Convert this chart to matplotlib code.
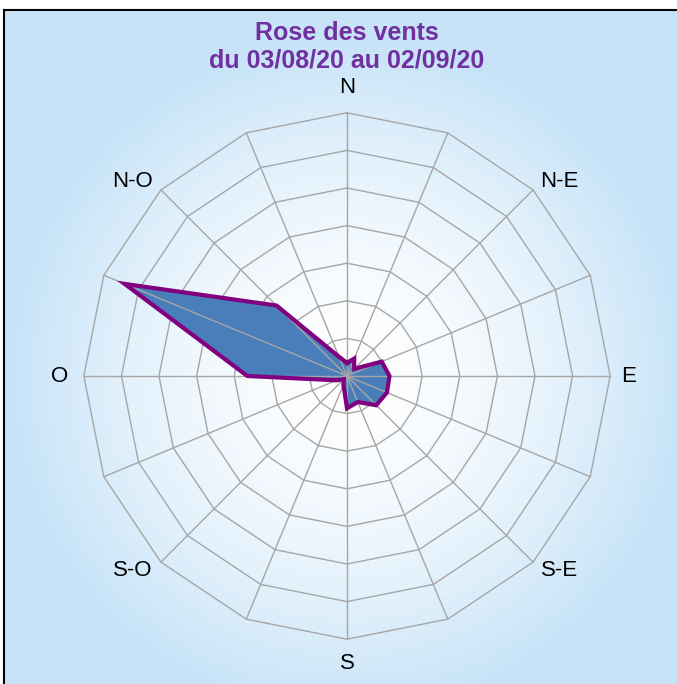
import numpy as np
import matplotlib
matplotlib.use("Agg")
import matplotlib.pyplot as plt
from matplotlib.lines import Line2D

plt.rcParams['font.family'] = ['Liberation Sans', 'DejaVu Sans']

# 16 wind directions, clockwise from north
directions = ['N', 'NNE', 'NE', 'ENE', 'E', 'ESE', 'SE', 'SSE',
              'S', 'SSO', 'SO', 'OSO', 'O', 'ONO', 'NO', 'NNO']
frequency = [0.35, 0.5, 0.27, 1.0, 1.13, 1.15, 1.1, 0.75,
             0.86, 0.25, 0.12, 0.3, 2.65, 6.4, 2.65, 0.55]
ring_levels = [1, 2, 3, 4, 5, 6, 7]
axis_labels = ['N', 'N-E', 'E', 'S-E', 'S', 'S-O', 'O', 'N-O']

W, H = 677, 684
fig = plt.figure(figsize=(W / 100, H / 100), dpi=100)

# background gradient (white centre -> light blue), framed box
bg = fig.add_axes([0, 0, 1, 1])
yy, xx = np.mgrid[0:H, 0:W]
d = np.hypot(xx - 347, yy - 376) / 340.0
t = np.clip(d, 0, 1) ** 1.6
blue = np.array([198, 227, 248]) / 255.0
img = (1 - t[..., None]) * 1.0 + t[..., None] * blue
img[:10, :, :] = 1.0
img[:, :4, :] = 1.0
bg.imshow(img, extent=[0, W, H, 0], aspect='auto', interpolation='bilinear')
bg.set_xlim(0, W)
bg.set_ylim(H, 0)
bg.axis('off')
bg.add_line(Line2D([4, W], [10, 10], color='black', lw=1.5))
bg.add_line(Line2D([4, 4], [10, H], color='black', lw=1.5))

# radar axes: centre at pixel (347, 376), 37.6 px per ring
unit = 37.6
half = 300
ax = fig.add_axes([(347 - half) / W, (H - 376 - half) / H, 2 * half / W, 2 * half / H])
lim = half / unit
ax.set_xlim(-lim, lim)
ax.set_ylim(-lim, lim)
ax.axis('off')

theta = np.deg2rad(np.arange(len(directions)) * 360 / len(directions))
rmax = max(ring_levels)

# polygonal rings
for lvl in ring_levels:
    xs = np.append(lvl * np.sin(theta), lvl * np.sin(theta[0]))
    ys = np.append(lvl * np.cos(theta), lvl * np.cos(theta[0]))
    ax.plot(xs, ys, color='#a6a6a6', lw=1, zorder=1)

# data polygon
r = np.array(frequency)
px = np.append(r * np.sin(theta), r[0] * np.sin(theta[0]))
py = np.append(r * np.cos(theta), r[0] * np.cos(theta[0]))
ax.fill(px, py, facecolor='#4a7ebb', edgecolor='none', zorder=2)

# spokes
for th in theta:
    ax.plot([0, rmax * np.sin(th)], [0, rmax * np.cos(th)], color='#a6a6a6', lw=1, zorder=3)

ax.plot(px, py, color='#800080', lw=3, solid_joinstyle='miter', zorder=4)

# compass labels at the ends of the 8 main spokes
label_offsets = [(0, 25), (26, 8), (18, 0), (26, -8), (0, -24), (-28, -8), (-24, 0), (-28, 8)]
for i, lab in enumerate(axis_labels):
    th = np.deg2rad(i * 45)
    ax.annotate(lab, (rmax * np.sin(th), rmax * np.cos(th)), xytext=label_offsets[i],
                textcoords='offset pixels', ha='center', va='center',
                fontsize=16, color='black')

fig.text(347 / W, 1 - 33 / H, 'Rose des vents', ha='center', va='center',
         fontsize=18, fontweight='bold', color='#7030a0')
fig.text(347 / W, 1 - 60 / H, 'du 03/08/20 au 02/09/20', ha='center', va='center',
         fontsize=18, fontweight='bold', color='#7030a0')

fig.savefig('out.png', dpi=100)
